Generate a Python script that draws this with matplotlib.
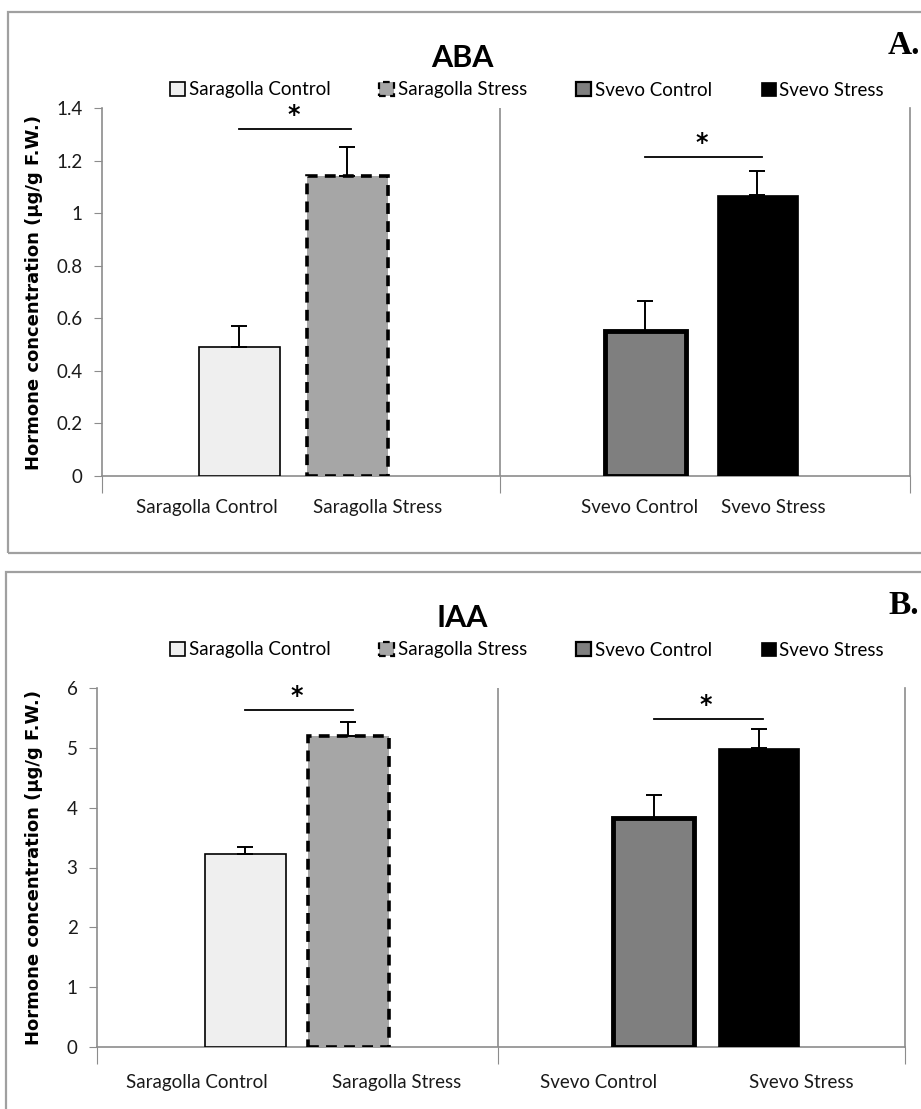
import matplotlib
matplotlib.use("Agg")
import matplotlib.pyplot as plt
from matplotlib.patches import Patch, Rectangle

# valores
grupos = ["Saragolla Control", "Saragolla Stress", "Svevo Control", "Svevo Stress"]
aba_media = [0.49, 1.14, 0.55, 1.07]
aba_erro = [0.08, 0.11, 0.115, 0.09]
iaa_media = [3.23, 5.19, 3.82, 5.00]
iaa_erro = [0.12, 0.24, 0.39, 0.31]
aba_ticks = [0, 0.2, 0.4, 0.6, 0.8, 1, 1.2, 1.4]
iaa_ticks = [0, 1, 2, 3, 4, 5, 6]
aba_sig = [1.32, 1.215]
iaa_sig = [5.64, 5.49]

W, H = 921, 1109
fonte = ["Lato", "DejaVu Sans"]
cinza = "#8c8c8c"

estilos = [
    dict(facecolor="#efefef", edgecolor="black", linewidth=1.2),
    dict(facecolor="#a6a6a6", edgecolor="black", linewidth=2.6, linestyle=(0, (3, 2))),
    dict(facecolor="#7f7f7f", edgecolor="black", linewidth=3.5),
    dict(facecolor="black", edgecolor="black", linewidth=0.5),
]

fig = plt.figure(figsize=(W / 100, H / 100), dpi=100)


def px(x0, y_top, x1, y_bot):
    return [x0 / W, 1 - y_bot / H, (x1 - x0) / W, (y_bot - y_top) / H]


def painel(rect, medias, erros, ticks, sig, centros, sep, titulo, letra, pos_rot, y_rot,
           lab_x, topo_px, box_top, box_bot):
    ax = fig.add_axes(rect)
    for c, m, e, st in zip(centros, medias, erros, estilos):
        ax.bar(c, m, width=0.8, zorder=3, **st)
        ax.errorbar(c, m, yerr=[[0], [e]], color="black", lw=1.4, capsize=6,
                    capthick=1.4, zorder=4)
    ymax = ticks[-1]
    ax.set_xlim(0, 8)
    ax.set_ylim(0, ymax)
    ax.set_yticks(ticks)
    ax.set_yticklabels([f"{t:g}" for t in ticks], family=fonte, fontsize=13.5, color="#1a1a1a")
    ax.set_xticks([0, sep, 8])
    ax.set_xticklabels([])
    ax.tick_params(axis="y", direction="out", length=6, color=cinza, pad=8)
    ax.tick_params(axis="x", direction="out", length=12, color=cinza)
    for lado in ["top", "right"]:
        ax.spines[lado].set_visible(False)
    for lado in ["left", "bottom"]:
        ax.spines[lado].set_color(cinza)
        ax.spines[lado].set_linewidth(1.2)
    ax.axvline(sep, color=cinza, lw=1.2, zorder=1)
    ax.axvline(8, color=cinza, lw=1.2, zorder=1, clip_on=False)
    # linhas de significância
    for (a, b), y in zip([(centros[0], centros[1]), (centros[2], centros[3])], sig):
        ax.plot([a, b + 0.04], [y, y], color="black", lw=1.3, zorder=4)
        ax.text((a + b) / 2, y + ymax * 0.005, "*", ha="center", va="bottom",
                fontsize=17, fontweight="bold", family="DejaVu Sans")
    for g, x in zip(grupos, pos_rot):
        ax.text(x, y_rot, g, transform=ax.get_xaxis_transform(), ha="center",
                va="center", family=fonte, fontsize=13.5, color="#1a1a1a")
    ax.set_ylabel("Hormone concentration (µg/g F.W.)", fontsize=13,
                  fontweight="bold", family="DejaVu Sans")
    ax.yaxis.set_label_coords(lab_x, 0.5)
    # título, letra e legenda
    fig.text(462 / W, 1 - (topo_px - 50) / H, titulo, ha="center", va="center",
             family=fonte, fontsize=22, fontweight="bold")
    fig.text(904 / W, 1 - (topo_px - 62) / H, letra, ha="center", va="center",
             family="Liberation Serif", fontsize=24, fontweight="bold")
    alcas = [Patch(facecolor=st["facecolor"], edgecolor="black",
                   linewidth=min(st["linewidth"], 1.6),
                   linestyle=st.get("linestyle", "solid")) for st in estilos]
    fig.legend(alcas, grupos, loc="center", ncol=4, frameon=False,
               bbox_to_anchor=(527 / W, 1 - (topo_px - 18) / H),
               prop={"family": fonte, "size": 13.5}, handlelength=0.8,
               handleheight=0.8, handletextpad=0.2, columnspacing=2.6)
    fig.patches.append(Rectangle((box_top[0] / W, 1 - box_bot / H),
                                 (W + 20 - box_top[0]) / W, (box_bot - box_top[1]) / H,
                                 transform=fig.transFigure, fill=False,
                                 edgecolor="#a0a0a0", lw=1.6))
    return ax


painel(px(102, 108, 910, 476), aba_media, aba_erro, aba_ticks, aba_sig,
       [1.36, 2.43, 5.38, 6.49], 3.94, "ABA", "A.",
       [1.04, 2.73, 5.32, 6.65], -0.085, -0.073, 108, (8, 12), 553)
painel(px(97, 688, 905, 1047), iaa_media, iaa_erro, iaa_ticks, iaa_sig,
       [1.47, 2.49, 5.51, 6.55], 3.97, "IAA", "B.",
       [0.99, 2.97, 4.97, 6.97], -0.1, -0.067, 668, (6, 572), 1130)

fig.savefig("out.png", dpi=100)
